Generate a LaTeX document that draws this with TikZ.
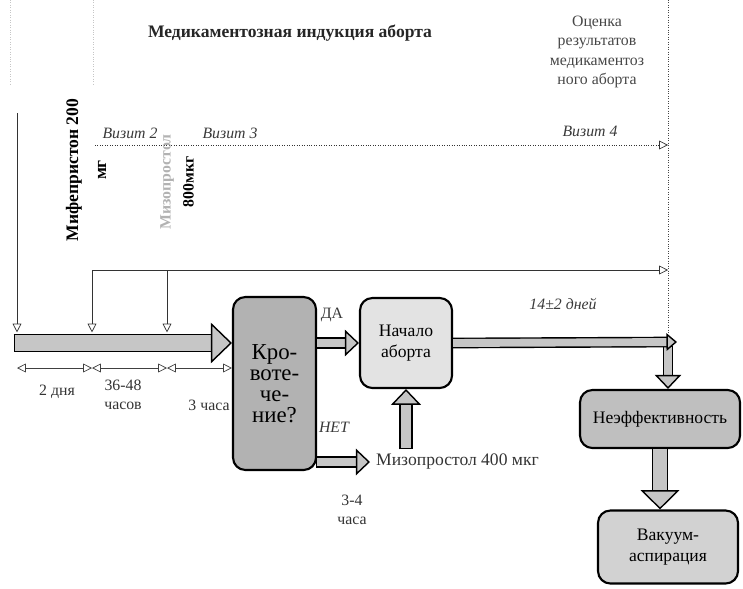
\documentclass[tikz,border=0pt]{standalone}
\usepackage{fontspec}
\setmainfont{Liberation Serif}
\usetikzlibrary{arrows.meta, positioning, calc}

\begin{document}
\begin{tikzpicture}[
  x=0.02cm, y=-0.02cm,
  font=\small,
  box/.style={draw, line width=1.2pt, rounded corners=7pt, align=center, inner sep=2pt},
  fat/.style n args={3}{line width=#1, gray!45,
    -{Triangle[length=#3, width=#2, fill=gray!45, color=black, line width=0.8pt]},
    preaction={draw=black, line width=#1+1.6pt, shorten >=#3-1.5pt, shorten <=-0.8pt, -}},
  drop/.style={gray!40!black, thin, -{Triangle[open, length=5pt, width=5pt]}},
  span/.style={gray!50!black, thin, {Triangle[open, length=5pt, width=5pt]}-{Triangle[open, length=5pt, width=5pt]}},
  faint/.style={gray!45, densely dotted},
  tag/.style={font=\small\itshape, text=gray!45!black},
]
\useasboundingbox (0,0) rectangle (743,588);

% headings
\node[font=\normalsize\bfseries, text=black!85] (title) at (290,33) {Медикаментозная индукция аборта};
\node[align=center, text=gray!55!black] (eval) at (597,52) {Оценка\\результатов\\медикаментоз\\ного аборта};

% time marks
\coordinate (in) at (15,343);
\coordinate (day0) at (17,113);
\coordinate (t1) at (92,270);
\coordinate (t2) at (167,270);
\coordinate (t4) at (668,270);
\coordinate (v1) at (95,145);
\coordinate (v4) at (668,145);
\coordinate (top4) at (668,0);
\coordinate (due) at (668,342);
\coordinate (end) at (677,342);
\coordinate (s0) at (17,368);

\draw[faint] (10,0) -- (10,85);
\draw[faint] (93,0) -- (93,85);
\draw[gray!55!black, densely dotted] (top4) -- (due);
\draw[drop, densely dotted] (v1) -- (v4);
\draw[drop] (t1) -- (t4);
\draw[drop, shorten >=6pt] (day0) -- (day0 |- in);
\draw[drop, shorten >=6pt] (t1) -- (t1 |- in);
\draw[drop, shorten >=6pt] (t2) -- (t2 |- in);

\node[tag] (vis2) at (130,133) {Визит 2};
\node[tag] (vis3) at (230,133) {Визит 3};
\node[tag] (vis4) at (590,131) {Визит 4};
\node[rotate=90, align=center, font=\normalsize\bfseries] (mifelbl) at (86,170) {Мифепристон 200\\[4pt]мг};
\node[rotate=90, align=center, font=\small\bfseries] (misolbl) at (177,182) {\textcolor{gray!60}{Мизопростол}\\[2pt]800мкг};

% boxes
\node[box, fill=gray!60, minimum width=1.66cm, minimum height=3.46cm, font=\fontsize{13}{12}\selectfont] (bleed) at (274.5,383.5) {Кро-\\воте-\\че-\\ние?};
\node[box, fill=gray!22, minimum width=1.84cm, minimum height=1.8cm, font=\normalsize] (onset) at (406,343) {Начало\\аборта};
\node[box, fill=gray!50, minimum width=3.2cm, minimum height=1.16cm, font=\normalsize] (fail) at (660,419) {Неэффективность};
\node[box, fill=gray!35, minimum width=2.8cm, minimum height=1.46cm, font=\normalsize] (vac) at (668,547) {Вакуум-\\аспирация};
\node[anchor=west, font=\normalsize, text=black!80] (dose) at (370,462) {Мизопростол 400 мкг};

% intervals
\draw[span] (s0) -- (s0 -| t1);
\draw[span] (s0 -| t1) -- (s0 -| t2);
\draw[span] (s0 -| t2) -- (s0 -| bleed.west);
\node[text=gray!40!black] (d2) at (57,392) {2 дня};
\node[align=center, text=gray!40!black] (d36) at (123,395) {36-48\\часов};
\node[text=gray!40!black] (h3) at (209,405) {3 часа};
\node[align=center, text=gray!40!black] (h34) at (352,510) {3-4\\часа};

% flow
\draw[fat={9pt}{23pt}{12pt}] (in) -- (in -| bleed.west);
\draw[fat={5pt}{15pt}{8pt}] (bleed.east |- onset.west) -- (onset.west);
\node[text=gray!45!black] (yes) at (332,315) {ДА};
\draw[fat={5pt}{15pt}{8pt}] (bleed.east |- dose.west) -- (dose.west);
\node[tag] (no) at (334,427) {НЕТ};
\draw[fat={6pt}{17pt}{9pt}] (onset.south |- dose.north) -- (onset.south);
\draw[fat={4.5pt}{15pt}{8pt}] ([yshift=-3pt]due) -- (due |- fail.north);
\draw[fat={4.5pt}{10pt}{6pt}] (onset.east) -- (end);
\node[tag] (days) at (563,304) {14±2 дней};
\draw[fat={8pt}{22pt}{11pt}] (fail.south) -- (fail.south |- vac.north);
\end{tikzpicture}
\end{document}
